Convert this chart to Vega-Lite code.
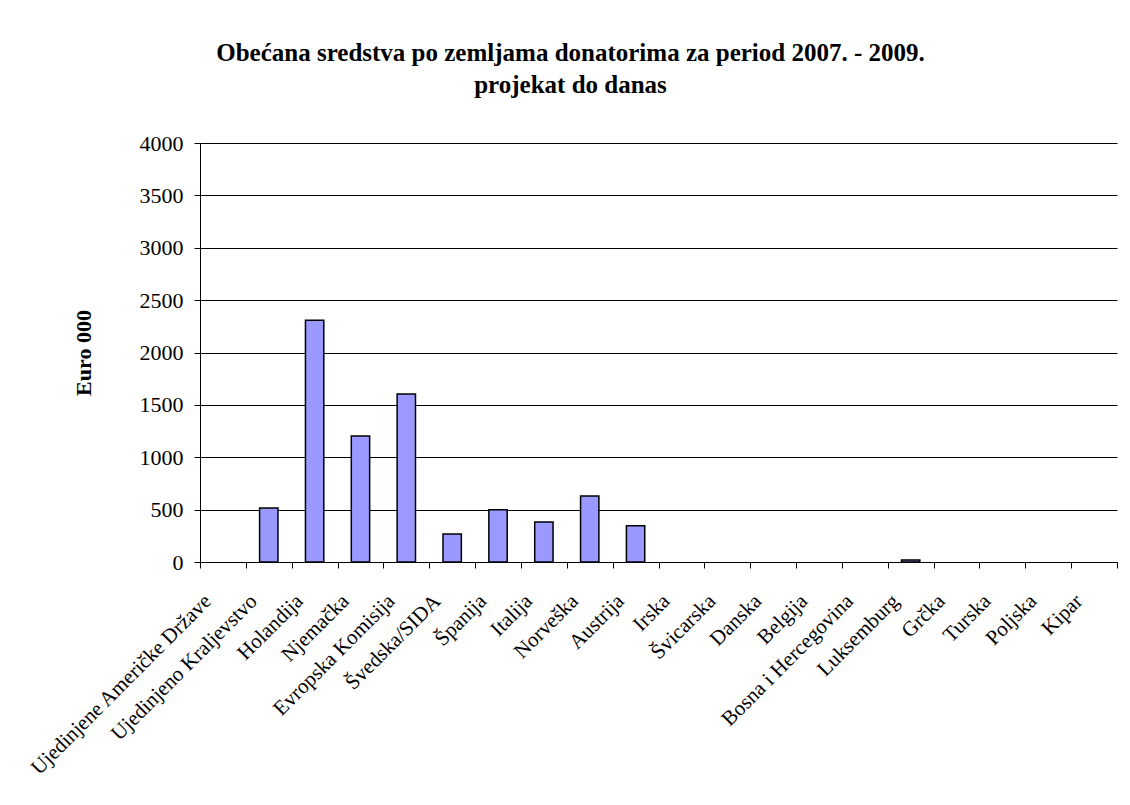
{
  "$schema": "https://vega.github.io/schema/vega-lite/v6.json",
  "autosize": {"type": "none"},
  "padding": {"left": 200, "top": 143, "right": 13, "bottom": 243},
  "width": 917,
  "height": 419,
  "background": "white",
  "title": {
    "text": ["Obećana sredstva po zemljama donatorima za period 2007. - 2009.", "projekat do danas"],
    "font": "Liberation Serif",
    "fontSize": 25,
    "fontWeight": "bold",
    "color": "black",
    "anchor": "middle",
    "frame": "group",
    "dx": -88,
    "offset": 34,
    "lineHeight": 32
  },
  "data": {
    "values": [
      {"zemlja": "Ujedinjene Američke Države", "iznos": 0},
      {"zemlja": "Ujedinjeno Kraljevstvo", "iznos": 515},
      {"zemlja": "Holandija", "iznos": 2309},
      {"zemlja": "Njemačka", "iznos": 1202},
      {"zemlja": "Evropska Komisija", "iznos": 1603},
      {"zemlja": "Švedska/SIDA", "iznos": 267},
      {"zemlja": "Španija", "iznos": 500},
      {"zemlja": "Italija", "iznos": 382},
      {"zemlja": "Norveška", "iznos": 630},
      {"zemlja": "Austrija", "iznos": 347},
      {"zemlja": "Irska", "iznos": 0},
      {"zemlja": "Švicarska", "iznos": 0},
      {"zemlja": "Danska", "iznos": 0},
      {"zemlja": "Belgija", "iznos": 0},
      {"zemlja": "Bosna i Hercegovina", "iznos": 0},
      {"zemlja": "Luksemburg", "iznos": 20},
      {"zemlja": "Grčka", "iznos": 0},
      {"zemlja": "Turska", "iznos": 0},
      {"zemlja": "Poljska", "iznos": 0},
      {"zemlja": "Kipar", "iznos": 0}
    ]
  },
  "mark": {"type": "bar", "fill": "#9999FF", "stroke": "black", "strokeWidth": 1.5, "width": {"band": 0.4}},
  "encoding": {
    "x": {
      "field": "zemlja",
      "type": "nominal",
      "sort": null,
      "scale": {"paddingInner": 0, "paddingOuter": 0},
      "axis": {
        "title": null,
        "labelAngle": -45,
        "labelAlign": "right",
        "labelBaseline": "top",
        "labelFont": "Liberation Serif",
        "labelFontSize": 21,
        "labelColor": "black",
        "labelPadding": 22,
        "labelOffset": -23,
        "labelLimit": 400,
        "labelOverlap": false,
        "tickBand": "extent",
        "tickColor": "black",
        "tickSize": 6,
        "domainColor": "black",
        "grid": false
      }
    },
    "y": {
      "field": "iznos",
      "type": "quantitative",
      "scale": {"domain": [0, 4000], "nice": false},
      "axis": {
        "title": "Euro 000",
        "titleFont": "Liberation Serif",
        "titleFontSize": 22,
        "titleFontWeight": "bold",
        "titleColor": "black",
        "titlePadding": 44,
        "values": [0, 500, 1000, 1500, 2000, 2500, 3000, 3500, 4000],
        "format": "d",
        "labelFont": "Liberation Serif",
        "labelFontSize": 22,
        "labelColor": "black",
        "labelPadding": 11,
        "tickColor": "black",
        "tickSize": 6,
        "domainColor": "black",
        "grid": true,
        "gridColor": "black",
        "gridOpacity": 1
      }
    },
    "strokeOpacity": {
      "condition": {"test": "datum.iznos > 0", "value": 1},
      "value": 0
    }
  },
  "config": {
    "view": {"stroke": null}
  }
}
